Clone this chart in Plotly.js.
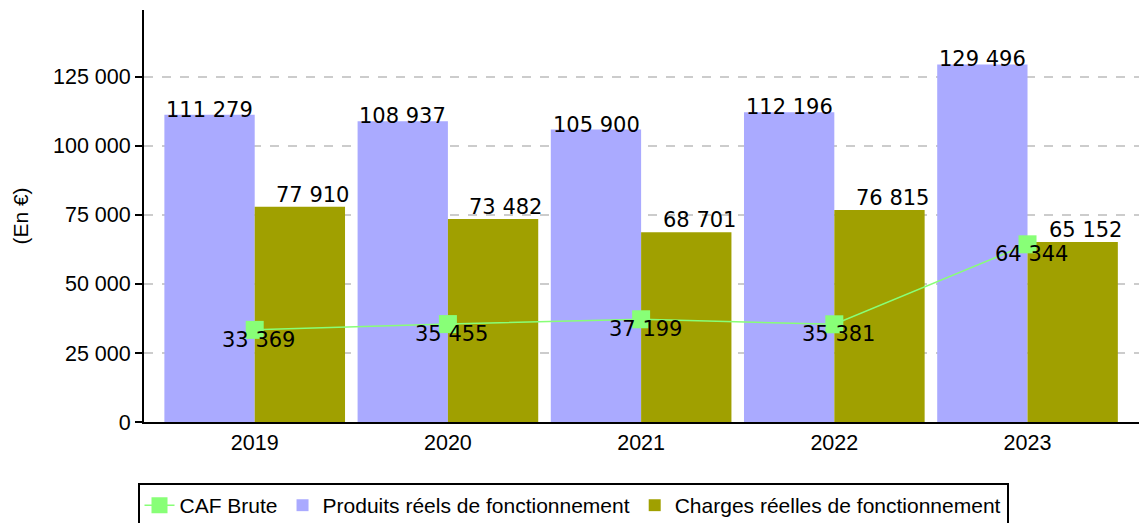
<!DOCTYPE html>
<html>
<head>
<meta charset="utf-8">
<script src="https://cdn.plot.ly/plotly-3.0.1.min.js"></script>
<style>html,body{margin:0;padding:0;background:#fff;}#chart{width:1146px;height:523px;}</style>
</head>
<body>
<div id="chart"></div>
<script>
const years = ['2019', '2020', '2021', '2022', '2023'];
const cafBrute = [33369, 35455, 37199, 35381, 64344];
const produits = [111279, 108937, 105900, 112196, 129496];
const charges = [77910, 73482, 68701, 76815, 65152];
const yTickVals = [0, 25000, 50000, 75000, 100000, 125000];

function fmt(v) { return String(v).replace(/\B(?=(\d{3})+(?!\d))/g, ' '); }

const traces = [
  {
    type: 'scatter', mode: 'lines+markers', name: 'CAF Brute',
    x: years, y: cafBrute,
    line: {color: '#88ff77', width: 1.5},
    marker: {symbol: 'square', size: 18, color: '#88ff77'},
    hoverinfo: 'skip'
  },
  {
    type: 'bar', name: 'Produits réels de fonctionnement',
    x: years, y: produits, marker: {color: '#aaaaff'}, hoverinfo: 'skip'
  },
  {
    type: 'bar', name: 'Charges réelles de fonctionnement',
    x: years, y: charges, marker: {color: '#a0a000'}, hoverinfo: 'skip'
  }
];

const labelFont = {family: 'DejaVu Sans', size: 21, color: '#000'};
const annotations = [];
years.forEach((yr, i) => {
  // category axis: annotation x uses the category index
  annotations.push({x: i, y: produits[i], xref: 'x', yref: 'y', text: fmt(produits[i]),
    showarrow: false, font: labelFont, xshift: -45, yshift: 5, yanchor: 'middle', xanchor: 'center'});
  annotations.push({x: i, y: charges[i], xref: 'x', yref: 'y', text: fmt(charges[i]),
    showarrow: false, font: labelFont, xshift: 58, yshift: 12, yanchor: 'middle', xanchor: 'center'});
  annotations.push({x: i, y: cafBrute[i], xref: 'x', yref: 'y', text: fmt(cafBrute[i]),
    showarrow: false, font: labelFont, xshift: 4, yshift: -10, yanchor: 'middle', xanchor: 'center'});
});

const layout = {
  width: 1146, height: 523,
  margin: {l: 144, r: 7, t: 10, b: 101},
  paper_bgcolor: '#fff', plot_bgcolor: '#fff',
  separators: ', ',
  barmode: 'group', bargap: 0.065, bargroupgap: 0,
  font: {family: 'Liberation Sans, Arial, sans-serif', size: 21, color: '#000'},
  showlegend: true,
  legend: {
    orientation: 'h', xref: 'container', yref: 'container',
    x: 0.5, xanchor: 'center', y: 1 - 483 / 523, yanchor: 'top',
    bordercolor: '#000', borderwidth: 2, font: {size: 21},
    traceorder: 'normal'
  },
  xaxis: {
    type: 'category', categoryorder: 'array', categoryarray: years,
    range: [-0.573, 4.577], showgrid: false, zeroline: false,
    showline: true, linecolor: '#000', linewidth: 2, ticks: '',
    tickfont: {size: 21.5}
  },
  yaxis: {
    range: [0, 149200], tickvals: yTickVals, tickformat: ',d',
    showgrid: true, gridcolor: '#cccccc', griddash: 'dash', gridwidth: 1.5,
    zeroline: false, showline: true, linecolor: '#000', linewidth: 2,
    ticks: 'outside', ticklen: 7, tickwidth: 2, tickcolor: '#000',
    tickfont: {size: 21.5},
    title: {text: '(En €)', font: {size: 21}, standoff: 19}
  },
  annotations: annotations
};

Plotly.newPlot('chart', traces, layout, {displayModeBar: false, staticPlot: true});
</script>
</body>
</html>
